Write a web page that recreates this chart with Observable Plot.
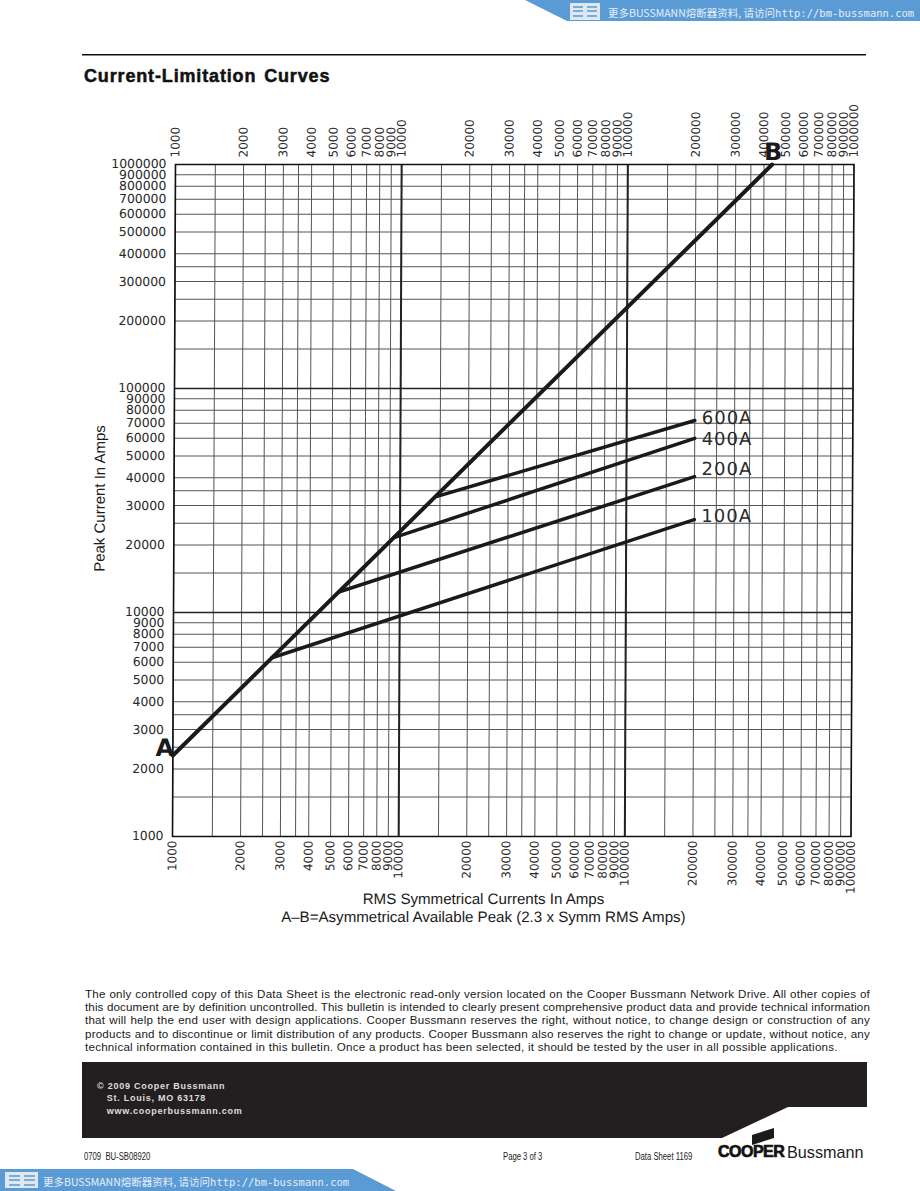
<!DOCTYPE html>
<html><head><meta charset="utf-8">
<script src="https://cdn.jsdelivr.net/npm/d3@7"></script>
<script src="https://cdn.jsdelivr.net/npm/@observablehq/plot@0.6"></script>
<style>
html,body{margin:0;padding:0;background:#fff;}
#page{position:relative;width:920px;height:1191px;overflow:hidden;font-family:"Liberation Sans",sans-serif;color:#111;}
#page>*{position:absolute;}
#deco{left:0;top:0;}
#chart{left:0;top:100px;}
#chart svg{display:block;transform:skewX(-0.256deg);transform-origin:0 400px;}
.curve-label{letter-spacing:1px;}
#title{left:84px;top:66px;font:bold 18px "Liberation Sans",sans-serif;letter-spacing:.85px;word-spacing:2px;white-space:nowrap;color:#111;-webkit-text-stroke:.5px #111;}
.ban{color:#e6eef7;font:10.5px "Noto Sans CJK SC",sans-serif;white-space:nowrap;line-height:14px;}
.ban b{font:10.5px "DejaVu Sans Mono",monospace;}
#legal{left:85px;top:987px;width:785px;font:11.6px/13.2px "Liberation Sans",sans-serif;letter-spacing:.22px;color:#1a1a1a;}
#legal div{text-align:justify;text-align-last:justify;white-space:nowrap;}
#legal div:nth-child(2){letter-spacing:.12px;}
#legal div:nth-child(4){letter-spacing:.2px;}
#legal div:last-child{text-align-last:left;letter-spacing:.24px;}
#addr{left:97px;top:1080px;font:bold 9px/12.3px "Liberation Sans",sans-serif;letter-spacing:.75px;color:#ddd;white-space:pre;}
.fine{top:1151px;font:10px "Liberation Sans",sans-serif;color:#222;white-space:pre;transform-origin:0 50%;transform:scaleX(.77);}
#cooper{left:718px;top:1143px;font:900 16px "Liberation Sans",sans-serif;letter-spacing:-.5px;color:#111;-webkit-text-stroke:.7px #111;}
#buss{left:787px;top:1143px;font:16.2px "Liberation Sans",sans-serif;color:#222;}
</style></head><body>
<div id="page">
<svg id="deco" width="920" height="1191">
 <polygon points="525,0 920,0 920,21 567,21" fill="#5a9bd5"/>
 <polygon points="0,1169 353,1169 396,1191 0,1191" fill="#5a9bd5"/>
 <g fill="#dfe7ef"><rect x="570" y="3" width="30" height="17"/><rect x="5" y="1172" width="33" height="16"/></g>
 <g stroke="#5a9bd5" stroke-width="1.6">
  <path d="M573 7H583M573 11H583M573 16H583M587 7H597M587 11H597M587 16H597"/>
  <path d="M9 1176H20M9 1180H20M9 1185H20M24 1176H35M24 1180H35M24 1185H35"/>
 </g>
 <rect x="82" y="54" width="784" height="1.5" fill="#111"/>
 <polygon points="82,1062 867,1062 867,1107 788,1107 722,1138 82,1138" fill="#231f20"/>
 <polygon points="752,1135 774,1128 774,1138 752,1145" fill="#1a1a1a"/>
</svg>
<div class="ban" style="left:608px;top:6px">更多BUSSMANN熔断器资料, 请访问<b>http://bm-bussmann.com</b></div>
<div class="ban" style="left:43px;top:1175px">更多BUSSMANN熔断器资料, 请访问<b>http://bm-bussmann.com</b></div>
<div id="title">Current-Limitation Curves</div>
<div id="chart"></div>
<div id="legal"><div>The only controlled copy of this Data Sheet is the electronic read-only version located on the Cooper Bussmann Network Drive. All other copies of</div><div>this document are by definition uncontrolled. This bulletin is intended to clearly present comprehensive product data and provide technical information</div><div>that will help the end user with design applications. Cooper Bussmann reserves the right, without notice, to change design or construction of any</div><div>products and to discontinue or limit distribution of any products. Cooper Bussmann also reserves the right to change or update, without notice, any</div><div>technical information contained in this bulletin. Once a product has been selected, it should be tested by the user in all possible applications.</div></div>
<div id="addr">© 2009 Cooper Bussmann
   St. Louis, MO 63178
   www.cooperbussmann.com</div>
<div class="fine" style="left:84px">0709  BU-SB08920</div>
<div class="fine" style="left:503px">Page 3 of 3</div>
<div class="fine" style="left:635px">Data Sheet 1169</div>
<div id="cooper">COOPER</div>
<div id="buss">Bussmann</div>
</div>
<script>
const labelTicks = [1000,2000,3000,4000,5000,6000,7000,8000,9000,10000,20000,30000,40000,50000,60000,70000,80000,90000,100000,200000,300000,400000,500000,600000,700000,800000,900000,1000000];
const halfTicks = [1500,2500,3500,15000,25000,35000,150000,250000,350000];
const decadeTicks = [10000,100000];

const diagonal = [{x:1000,y:2300},{x:434800,y:1000000}];
const curveNames = ["100A","200A","400A","600A"];
const curveStartX = [2730,5370,9400,14550];
const curveStartY = [6280,12350,21600,33000];
const curveEndX = [200000,200000,200000,200000];
const curveEndY = [26000,40400,59900,72000];
const curveLabelY = [26800,43500,59300,73400];

const curves = curveNames.map((name,i)=>({name,
  pts:[{x:curveStartX[i],y:curveStartY[i]},{x:curveEndX[i],y:curveEndY[i]}],
  ex:curveEndX[i], ly:curveLabelY[i]}));

const sans = "'Liberation Sans',sans-serif";
const axisCommon = {ticks:40,tickSize:0,tickFormat:d3.format("d"),label:null};
const chart = Plot.plot({
  width:920, height:840,
  marginTop:64, marginBottom:104, marginLeft:173.5, marginRight:68,
  style:{background:"transparent",fontFamily:"'DejaVu Sans',sans-serif",color:"#2a2a2a"},
  x:{type:"log",domain:[1000,1000000]},
  y:{type:"log",domain:[1000,1000000]},
  marks:[
    Plot.gridX(labelTicks.concat(halfTicks),{stroke:"#555",strokeOpacity:1,strokeWidth:1}),
    Plot.gridY(labelTicks.concat(halfTicks),{stroke:"#555",strokeOpacity:1,strokeWidth:1}),
    Plot.gridX(decadeTicks,{stroke:"#222",strokeOpacity:1,strokeWidth:2}),
    Plot.gridY(decadeTicks,{stroke:"#222",strokeOpacity:1,strokeWidth:1.6}),
    Plot.frame({stroke:"#111",strokeWidth:1.6}),
    Plot.axisX({...axisCommon,anchor:"bottom",fontSize:12,tickPadding:4,tickRotate:-90}),
    Plot.axisX({...axisCommon,anchor:"top",fontSize:12,tickPadding:7,tickRotate:-90}),
    Plot.axisY({...axisCommon,anchor:"left",fontSize:12.4,tickPadding:9}),
    Plot.line(diagonal,{x:"x",y:"y",stroke:"#1a1a1a",strokeWidth:4}),
    ...curves.map(c=>Plot.line(c.pts,{x:"x",y:"y",stroke:"#1a1a1a",strokeWidth:3.5})),
    Plot.text(curves,{x:"ex",y:"ly",text:"name",textAnchor:"start",dx:7,fontSize:18,fill:"#2a2a2a",className:"curve-label"}),
    Plot.text([{x:1000,y:2300,t:"A"}],{x:"x",y:"y",text:"t",dx:-8,dy:-7,fontSize:24,fontWeight:"bold",fill:"#1a1a1a"}),
    Plot.text([{x:434800,y:1000000,t:"B"}],{x:"x",y:"y",text:"t",dx:1,dy:-12,fontSize:24,fontWeight:"bold",fill:"#1a1a1a"}),
    Plot.text(["Peak Current In Amps"],{frameAnchor:"left",textAnchor:"middle",rotate:-90,dx:-74,dy:-2,fontSize:15,fontFamily:sans,fill:"#1a1a1a"}),
    Plot.text(["RMS Symmetrical Currents In Amps"],{frameAnchor:"bottom",dy:67,dx:-28,fontSize:15.1,fontFamily:sans,fill:"#1a1a1a"}),
    Plot.text(["A–B=Asymmetrical Available Peak (2.3 x Symm RMS Amps)"],{frameAnchor:"bottom",dy:85,dx:-28,fontSize:15.1,fontFamily:sans,fill:"#1a1a1a"})
  ]
});
document.getElementById("chart").appendChild(chart);
</script>
</body></html>
